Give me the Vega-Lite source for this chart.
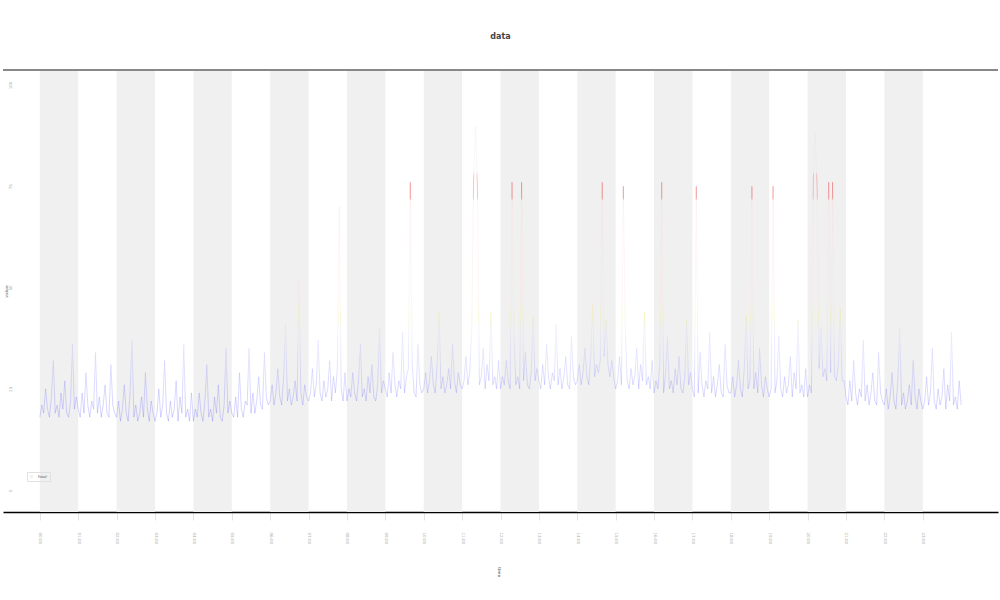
{
"$schema":"https://vega.github.io/schema/vega-lite/v6.json",
"width":995,"height":442,
"autosize":{"type":"none"},
"padding":{"left":3,"top":70,"right":2,"bottom":88},
"config":{"view":{"stroke":null},"font":"DejaVu Sans"},
"title":{"text":"data","fontSize":8,"offset":28,"color":"#444","fontWeight":"bold"},
"datasets":{
"bands":[{"b":0,"e":1,"k":"hour"},{"b":2,"e":3,"k":"hour"},{"b":4,"e":5,"k":"hour"},{"b":6,"e":7,"k":"hour"},{"b":8,"e":9,"k":"hour"},{"b":10,"e":11,"k":"hour"},{"b":12,"e":13,"k":"hour"},{"b":14,"e":15,"k":"hour"},{"b":16,"e":17,"k":"hour"},{"b":18,"e":19,"k":"hour"},{"b":20,"e":21,"k":"hour"},{"b":22,"e":23,"k":"hour"}],
"s":[
{"h":0,"v":18},{"h":0.05,"v":21},{"h":0.1,"v":19},{"h":0.15,"v":25},{"h":0.2,"v":20},{"h":0.25,"v":18},{"h":0.3,"v":23},{"h":0.35,"v":32},{"h":0.4,"v":19},{"h":0.45,"v":21},{"h":0.5,"v":18},{"h":0.55,"v":24},{"h":0.6,"v":20},{"h":0.65,"v":27},{"h":0.7,"v":19},{"h":0.75,"v":18},{"h":0.8,"v":22},{"h":0.85,"v":36},{"h":0.9,"v":20},{"h":0.95,"v":23},
{"h":1,"v":20},{"h":1.05,"v":18},{"h":1.1,"v":24},{"h":1.15,"v":19},{"h":1.2,"v":29},{"h":1.25,"v":21},{"h":1.3,"v":18},{"h":1.35,"v":22},{"h":1.4,"v":20},{"h":1.45,"v":34},{"h":1.5,"v":19},{"h":1.55,"v":23},{"h":1.6,"v":18},{"h":1.65,"v":21},{"h":1.7,"v":26},{"h":1.75,"v":19},{"h":1.8,"v":18},{"h":1.85,"v":31},{"h":1.9,"v":21},{"h":1.95,"v":19},
{"h":2,"v":18},{"h":2.05,"v":22},{"h":2.1,"v":17},{"h":2.15,"v":20},{"h":2.2,"v":26},{"h":2.25,"v":19},{"h":2.3,"v":17},{"h":2.35,"v":24},{"h":2.4,"v":37},{"h":2.45,"v":18},{"h":2.5,"v":21},{"h":2.55,"v":17},{"h":2.6,"v":19},{"h":2.65,"v":23},{"h":2.7,"v":18},{"h":2.75,"v":29},{"h":2.8,"v":20},{"h":2.85,"v":17},{"h":2.9,"v":22},{"h":2.95,"v":19},
{"h":3,"v":17},{"h":3.05,"v":19},{"h":3.1,"v":25},{"h":3.15,"v":18},{"h":3.2,"v":21},{"h":3.25,"v":32},{"h":3.3,"v":19},{"h":3.35,"v":17},{"h":3.4,"v":22},{"h":3.45,"v":18},{"h":3.5,"v":20},{"h":3.55,"v":27},{"h":3.6,"v":17},{"h":3.65,"v":23},{"h":3.7,"v":19},{"h":3.75,"v":36},{"h":3.8,"v":18},{"h":3.85,"v":20},{"h":3.9,"v":17},{"h":3.95,"v":24},
{"h":4,"v":17},{"h":4.05,"v":20},{"h":4.1,"v":18},{"h":4.15,"v":24},{"h":4.2,"v":19},{"h":4.25,"v":17},{"h":4.3,"v":22},{"h":4.35,"v":31},{"h":4.4,"v":18},{"h":4.45,"v":20},{"h":4.5,"v":17},{"h":4.55,"v":23},{"h":4.6,"v":19},{"h":4.65,"v":26},{"h":4.7,"v":18},{"h":4.75,"v":17},{"h":4.8,"v":21},{"h":4.85,"v":35},{"h":4.9,"v":19},{"h":4.95,"v":22},
{"h":5,"v":19},{"h":5.05,"v":18},{"h":5.1,"v":23},{"h":5.15,"v":18},{"h":5.2,"v":29},{"h":5.25,"v":20},{"h":5.3,"v":18},{"h":5.35,"v":22},{"h":5.4,"v":21},{"h":5.45,"v":35},{"h":5.5,"v":19},{"h":5.55,"v":24},{"h":5.6,"v":19},{"h":5.65,"v":22},{"h":5.7,"v":28},{"h":5.75,"v":21},{"h":5.8,"v":20},{"h":5.85,"v":34},{"h":5.9,"v":23},{"h":5.95,"v":21},
{"h":6,"v":22},{"h":6.05,"v":26},{"h":6.1,"v":21},{"h":6.15,"v":24},{"h":6.2,"v":30},{"h":6.25,"v":23},{"h":6.3,"v":21},{"h":6.35,"v":28},{"h":6.4,"v":41},{"h":6.45,"v":22},{"h":6.5,"v":25},{"h":6.55,"v":21},{"h":6.6,"v":23},{"h":6.65,"v":27},{"h":6.7,"v":22},{"h":6.75,"v":52},{"h":6.8,"v":24},{"h":6.85,"v":21},{"h":6.9,"v":26},{"h":6.95,"v":23},
{"h":7,"v":22},{"h":7.05,"v":24},{"h":7.1,"v":30},{"h":7.15,"v":23},{"h":7.2,"v":26},{"h":7.25,"v":37},{"h":7.3,"v":24},{"h":7.35,"v":22},{"h":7.4,"v":27},{"h":7.45,"v":23},{"h":7.5,"v":25},{"h":7.55,"v":32},{"h":7.6,"v":22},{"h":7.65,"v":28},{"h":7.7,"v":24},{"h":7.75,"v":30},{"h":7.8,"v":70},{"h":7.85,"v":25},{"h":7.9,"v":22},{"h":7.95,"v":29},
{"h":8,"v":22},{"h":8.05,"v":25},{"h":8.1,"v":23},{"h":8.15,"v":29},{"h":8.2,"v":24},{"h":8.25,"v":22},{"h":8.3,"v":27},{"h":8.35,"v":36},{"h":8.4,"v":23},{"h":8.45,"v":25},{"h":8.5,"v":22},{"h":8.55,"v":28},{"h":8.6,"v":24},{"h":8.65,"v":31},{"h":8.7,"v":23},{"h":8.75,"v":22},{"h":8.8,"v":26},{"h":8.85,"v":40},{"h":8.9,"v":24},{"h":8.95,"v":27},
{"h":9,"v":25},{"h":9.05,"v":23},{"h":9.1,"v":29},{"h":9.15,"v":24},{"h":9.2,"v":34},{"h":9.25,"v":26},{"h":9.3,"v":23},{"h":9.35,"v":27},{"h":9.4,"v":25},{"h":9.45,"v":39},{"h":9.5,"v":24},{"h":9.55,"v":28},{"h":9.6,"v":30},{"h":9.65,"v":76},{"h":9.7,"v":31},{"h":9.75,"v":24},{"h":9.8,"v":23},{"h":9.85,"v":36},{"h":9.9,"v":26},{"h":9.95,"v":24},
{"h":10,"v":25},{"h":10.05,"v":29},{"h":10.1,"v":24},{"h":10.15,"v":27},{"h":10.2,"v":33},{"h":10.25,"v":26},{"h":10.3,"v":24},{"h":10.35,"v":31},{"h":10.4,"v":44},{"h":10.45,"v":25},{"h":10.5,"v":28},{"h":10.55,"v":24},{"h":10.6,"v":26},{"h":10.65,"v":30},{"h":10.7,"v":25},{"h":10.75,"v":36},{"h":10.8,"v":27},{"h":10.85,"v":24},{"h":10.9,"v":29},{"h":10.95,"v":26},
{"h":11,"v":25},{"h":11.05,"v":27},{"h":11.1,"v":33},{"h":11.15,"v":26},{"h":11.2,"v":29},{"h":11.25,"v":40},{"h":11.3,"v":77},{"h":11.35,"v":90},{"h":11.4,"v":74},{"h":11.45,"v":26},{"h":11.5,"v":28},{"h":11.55,"v":35},{"h":11.6,"v":25},{"h":11.65,"v":31},{"h":11.7,"v":27},{"h":11.75,"v":44},{"h":11.8,"v":26},{"h":11.85,"v":28},{"h":11.9,"v":25},{"h":11.95,"v":32},
{"h":12,"v":25},{"h":12.05,"v":28},{"h":12.1,"v":26},{"h":12.15,"v":32},{"h":12.2,"v":27},{"h":12.25,"v":25},{"h":12.3,"v":76},{"h":12.35,"v":39},{"h":12.4,"v":26},{"h":12.45,"v":28},{"h":12.5,"v":25},{"h":12.55,"v":76},{"h":12.6,"v":27},{"h":12.65,"v":34},{"h":12.7,"v":26},{"h":12.75,"v":25},{"h":12.8,"v":29},{"h":12.85,"v":43},{"h":12.9,"v":27},{"h":12.95,"v":30},
{"h":13,"v":27},{"h":13.05,"v":25},{"h":13.1,"v":31},{"h":13.15,"v":26},{"h":13.2,"v":36},{"h":13.25,"v":28},{"h":13.3,"v":25},{"h":13.35,"v":29},{"h":13.4,"v":27},{"h":13.45,"v":41},{"h":13.5,"v":26},{"h":13.55,"v":30},{"h":13.6,"v":25},{"h":13.65,"v":28},{"h":13.7,"v":33},{"h":13.75,"v":26},{"h":13.8,"v":25},{"h":13.85,"v":38},{"h":13.9,"v":28},{"h":13.95,"v":26},
{"h":14,"v":27},{"h":14.05,"v":31},{"h":14.1,"v":26},{"h":14.15,"v":29},{"h":14.2,"v":35},{"h":14.25,"v":28},{"h":14.3,"v":26},{"h":14.35,"v":33},{"h":14.4,"v":46},{"h":14.45,"v":28},{"h":14.5,"v":31},{"h":14.55,"v":29},{"h":14.6,"v":32},{"h":14.65,"v":76},{"h":14.7,"v":33},{"h":14.75,"v":42},{"h":14.8,"v":31},{"h":14.85,"v":28},{"h":14.9,"v":32},{"h":14.95,"v":28},
{"h":15,"v":25},{"h":15.05,"v":27},{"h":15.1,"v":33},{"h":15.15,"v":26},{"h":15.2,"v":75},{"h":15.25,"v":40},{"h":15.3,"v":27},{"h":15.35,"v":25},{"h":15.4,"v":30},{"h":15.45,"v":26},{"h":15.5,"v":28},{"h":15.55,"v":35},{"h":15.6,"v":25},{"h":15.65,"v":31},{"h":15.7,"v":27},{"h":15.75,"v":44},{"h":15.8,"v":26},{"h":15.85,"v":28},{"h":15.9,"v":25},{"h":15.95,"v":32},
{"h":16,"v":24},{"h":16.05,"v":27},{"h":16.1,"v":25},{"h":16.15,"v":31},{"h":16.2,"v":76},{"h":16.25,"v":24},{"h":16.3,"v":29},{"h":16.35,"v":38},{"h":16.4,"v":25},{"h":16.45,"v":27},{"h":16.5,"v":24},{"h":16.55,"v":30},{"h":16.6,"v":26},{"h":16.65,"v":33},{"h":16.7,"v":25},{"h":16.75,"v":24},{"h":16.8,"v":28},{"h":16.85,"v":42},{"h":16.9,"v":26},{"h":16.95,"v":29},
{"h":17,"v":25},{"h":17.05,"v":23},{"h":17.1,"v":75},{"h":17.15,"v":24},{"h":17.2,"v":34},{"h":17.25,"v":26},{"h":17.3,"v":23},{"h":17.35,"v":27},{"h":17.4,"v":25},{"h":17.45,"v":39},{"h":17.5,"v":24},{"h":17.55,"v":28},{"h":17.6,"v":23},{"h":17.65,"v":26},{"h":17.7,"v":31},{"h":17.75,"v":24},{"h":17.8,"v":23},{"h":17.85,"v":36},{"h":17.9,"v":26},{"h":17.95,"v":24},
{"h":18,"v":24},{"h":18.05,"v":28},{"h":18.1,"v":23},{"h":18.15,"v":26},{"h":18.2,"v":32},{"h":18.25,"v":25},{"h":18.3,"v":23},{"h":18.35,"v":30},{"h":18.4,"v":43},{"h":18.45,"v":25},{"h":18.5,"v":27},{"h":18.55,"v":75},{"h":18.6,"v":25},{"h":18.65,"v":29},{"h":18.7,"v":24},{"h":18.75,"v":35},{"h":18.8,"v":26},{"h":18.85,"v":23},{"h":18.9,"v":28},{"h":18.95,"v":25},
{"h":19,"v":23},{"h":19.05,"v":25},{"h":19.1,"v":75},{"h":19.15,"v":24},{"h":19.2,"v":27},{"h":19.25,"v":38},{"h":19.3,"v":25},{"h":19.35,"v":23},{"h":19.4,"v":28},{"h":19.45,"v":24},{"h":19.5,"v":26},{"h":19.55,"v":33},{"h":19.6,"v":23},{"h":19.65,"v":29},{"h":19.7,"v":25},{"h":19.75,"v":42},{"h":19.8,"v":24},{"h":19.85,"v":26},{"h":19.9,"v":23},{"h":19.95,"v":30},
{"h":20,"v":23},{"h":20.05,"v":26},{"h":20.1,"v":24},{"h":20.15,"v":77},{"h":20.2,"v":88},{"h":20.25,"v":74},{"h":20.3,"v":30},{"h":20.35,"v":40},{"h":20.4,"v":28},{"h":20.45,"v":30},{"h":20.5,"v":27},{"h":20.55,"v":76},{"h":20.6,"v":29},{"h":20.65,"v":76},{"h":20.7,"v":28},{"h":20.75,"v":27},{"h":20.8,"v":31},{"h":20.85,"v":45},{"h":20.9,"v":27},{"h":20.95,"v":27},
{"h":21,"v":23},{"h":21.05,"v":21},{"h":21.1,"v":27},{"h":21.15,"v":22},{"h":21.2,"v":32},{"h":21.25,"v":24},{"h":21.3,"v":21},{"h":21.35,"v":25},{"h":21.4,"v":23},{"h":21.45,"v":37},{"h":21.5,"v":22},{"h":21.55,"v":26},{"h":21.6,"v":21},{"h":21.65,"v":24},{"h":21.7,"v":29},{"h":21.75,"v":22},{"h":21.8,"v":21},{"h":21.85,"v":34},{"h":21.9,"v":24},{"h":21.95,"v":22},
{"h":22,"v":21},{"h":22.05,"v":25},{"h":22.1,"v":20},{"h":22.15,"v":23},{"h":22.2,"v":29},{"h":22.25,"v":22},{"h":22.3,"v":20},{"h":22.35,"v":27},{"h":22.4,"v":40},{"h":22.45,"v":21},{"h":22.5,"v":24},{"h":22.55,"v":20},{"h":22.6,"v":22},{"h":22.65,"v":26},{"h":22.7,"v":21},{"h":22.75,"v":32},{"h":22.8,"v":23},{"h":22.85,"v":20},{"h":22.9,"v":25},{"h":22.95,"v":22},
{"h":23,"v":20},{"h":23.05,"v":22},{"h":23.1,"v":28},{"h":23.15,"v":21},{"h":23.2,"v":24},{"h":23.25,"v":35},{"h":23.3,"v":22},{"h":23.35,"v":20},{"h":23.4,"v":25},{"h":23.45,"v":21},{"h":23.5,"v":23},{"h":23.55,"v":30},{"h":23.6,"v":20},{"h":23.65,"v":26},{"h":23.7,"v":22},{"h":23.75,"v":39},{"h":23.8,"v":21},{"h":23.85,"v":23},{"h":23.9,"v":20},{"h":23.95,"v":27},
{"h":24,"v":21}
]},
"layer":[
{"data":{"name":"bands"},"mark":{"type":"rect"},
 "encoding":{
  "x":{"field":"b","type":"quantitative","scale":{"domain":[-0.96,24.96],"nice":false,"zero":false},
   "axis":{"title":"time","titleAngle":90,"titleFontSize":4,"titleColor":"#888","titlePadding":28,"values":[0,1,2,3,4,5,6,7,8,9,10,11,12,13,14,15,16,17,18,19,20,21,22,23],"labelExpr":"(datum.value<10?'0':'')+datum.value+':00'","labelAngle":90,"labelFontSize":4,"labelColor":"#aaa","labelPadding":12,"tickColor":"#e4e4e4","tickSize":8,"domainColor":"#000","domainWidth":1.5,"grid":false}},
  "x2":{"field":"e"},
  "color":{"field":"k","type":"nominal","scale":{"range":["#f0f0f0"]},
   "legend":{"title":null,"orient":"none","legendX":24,"legendY":402,"labelFontSize":4,"labelColor":"#555","symbolSize":8,"symbolType":"square","padding":2,"strokeColor":"#e0e0e0","labelAngle":-90}}
 }},
{"data":{"name":"s"},
 "mark":{"type":"line","strokeWidth":0.5,"opacity":0.5,"interpolate":"linear",
  "color":{"gradient":"linear","x1":0,"y1":1,"x2":0,"y2":0,"stops":[
   {"offset":0,"color":"#5050ff"},{"offset":0.12,"color":"#7070ff"},{"offset":0.25,"color":"#b8b8ff"},{"offset":0.3,"color":"#d0d0ff"},{"offset":0.355,"color":"#eaea60"},{"offset":0.41,"color":"#ffd6d6"},{"offset":0.745,"color":"#ffd6d6"},{"offset":0.755,"color":"#e41a1a"},{"offset":0.83,"color":"#e41a1a"},{"offset":0.845,"color":"#e6dce6"},{"offset":1,"color":"#e0e0ee"}]}},
 "encoding":{
  "x":{"field":"h","type":"quantitative","scale":{"domain":[-0.96,24.96],"nice":false,"zero":false},
   "axis":{"title":"time","titleAngle":90,"titleFontSize":4,"titleColor":"#888","titlePadding":28,"values":[0,1,2,3,4,5,6,7,8,9,10,11,12,13,14,15,16,17,18,19,20,21,22,23],"labelExpr":"(datum.value<10?'0':'')+datum.value+':00'","labelAngle":90,"labelFontSize":4,"labelColor":"#aaa","labelPadding":12,"tickColor":"#e4e4e4","tickSize":8,"domainColor":"#000","domainWidth":1.5,"grid":false}},
  "y":{"field":"v","type":"quantitative","scale":{"domain":[-5.4,103.7],"nice":false,"zero":false},
   "axis":{"title":"value","titleFontSize":4,"titleColor":"#999","titlePadding":0,"values":[0,25,50,75,100],"labelAngle":-90,"labelFontSize":4,"labelColor":"#aaa","tickSize":0,"domain":false,"grid":false,"offset":-9,"labelPadding":0}}
 }},
{"data":{"values":[{}]},"mark":{"type":"rule","color":"#888","strokeWidth":2},
 "encoding":{"y":{"datum":103.7,"type":"quantitative",
   "axis":{"title":"value","titleFontSize":4,"titleColor":"#999","titlePadding":0,"values":[0,25,50,75,100],"labelAngle":-90,"labelFontSize":4,"labelColor":"#aaa","tickSize":0,"domain":false,"grid":false,"offset":-9,"labelPadding":0}}}}
]
}
